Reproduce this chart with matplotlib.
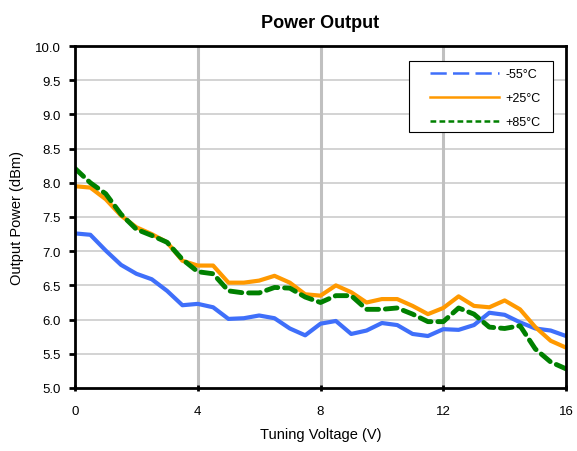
import matplotlib
matplotlib.use('Agg')
import matplotlib.pyplot as plt
from matplotlib.lines import Line2D
from matplotlib.patches import Rectangle
import numpy as np

plt.rcParams['font.family'] = ['Liberation Sans', 'DejaVu Sans']

# Tuning voltage steps of 0.5 V
voltage = [i * 0.5 for i in range(33)]

# Output power (dBm) for each temperature
p_m55 = [7.26, 7.24, 7.01, 6.80, 6.67, 6.59, 6.42, 6.21, 6.23, 6.18, 6.01,
         6.02, 6.06, 6.02, 5.87, 5.77, 5.94, 5.98, 5.79, 5.84, 5.95, 5.92,
         5.79, 5.76, 5.86, 5.85, 5.92, 6.10, 6.07, 5.96, 5.87, 5.84, 5.76]
p_p25 = [7.95, 7.93, 7.76, 7.52, 7.35, 7.25, 7.13, 6.86, 6.79, 6.79, 6.54,
         6.54, 6.57, 6.64, 6.54, 6.37, 6.35, 6.50, 6.40, 6.25, 6.30, 6.30,
         6.20, 6.08, 6.17, 6.34, 6.20, 6.18, 6.28, 6.15, 5.89, 5.69, 5.59]
p_p85 = [8.21, 8.00, 7.84, 7.54, 7.32, 7.23, 7.13, 6.88, 6.70, 6.67, 6.42,
         6.39, 6.39, 6.47, 6.46, 6.33, 6.25, 6.35, 6.35, 6.15, 6.15, 6.17,
         6.08, 5.97, 5.97, 6.17, 6.08, 5.89, 5.87, 5.91, 5.57, 5.38, 5.28]

labels = ['-55°C', '+25°C', '+85°C']
colors = ['#3f6ffa', '#ff9900', '#008000']

fig = plt.figure(figsize=(5.77, 4.52), dpi=100)
ax = fig.add_axes([0.130, 0.1394, 0.851, 0.7566])

ax.plot(voltage, p_m55, color=colors[0], lw=3, solid_joinstyle='round')
ax.plot(voltage, p_p25, color=colors[1], lw=3, solid_joinstyle='round')
ax.plot(voltage, p_p85, color=colors[2], lw=3.5, dashes=(2.4, 1.4),
        dash_capstyle='round')

ax.set_xlim(0, 16)
ax.set_ylim(5.0, 10.0)
ax.set_xticks([0, 4, 8, 12, 16])
ax.set_yticks(np.arange(5.0, 10.01, 0.5))
ax.set_yticklabels([f'{v:.1f}' for v in np.arange(5.0, 10.01, 0.5)])

for y in np.arange(5.5, 10.0, 0.5):
    ax.axhline(y, color='#cccccc', lw=1.2, zorder=0)
for x in [4, 8, 12]:
    ax.axvline(x, color='#c0c0c0', lw=2.2, zorder=0)

for s in ax.spines.values():
    s.set_linewidth(2)
    s.set_color('black')

ax.tick_params(axis='y', direction='out', length=4, width=2, labelsize=9.5, pad=6)
ax.tick_params(axis='x', direction='inout', length=5, width=2, labelsize=9.5, pad=10)

ax.set_title('Power Output', fontsize=13, fontweight='bold', pad=14)
ax.set_xlabel('Tuning Voltage (V)', fontsize=10.5, labelpad=7)
ax.set_ylabel('Output Power (dBm)', fontsize=10.5, labelpad=8)

# legend box drawn separately so the side padding matches
ax.add_patch(Rectangle((0.680, 0.7485), 0.2935, 0.2075, transform=ax.transAxes,
                       facecolor='white', edgecolor='black', lw=0.8, zorder=4))
handles = [Line2D([], [], color=colors[0], lw=1.8, dashes=(6.5, 2.5)),
           Line2D([], [], color=colors[1], lw=1.8),
           Line2D([], [], color=colors[2], lw=1.8, dashes=(2.3, 1.3))]
leg = ax.legend(handles, labels, loc='upper left', bbox_to_anchor=(0.723, 0.935),
                fontsize=9, frameon=False, handlelength=5.5,
                borderpad=0, labelspacing=0.95, handletextpad=0.55,
                borderaxespad=0)
leg.set_zorder(5)

fig.savefig('out.png', dpi=100)
